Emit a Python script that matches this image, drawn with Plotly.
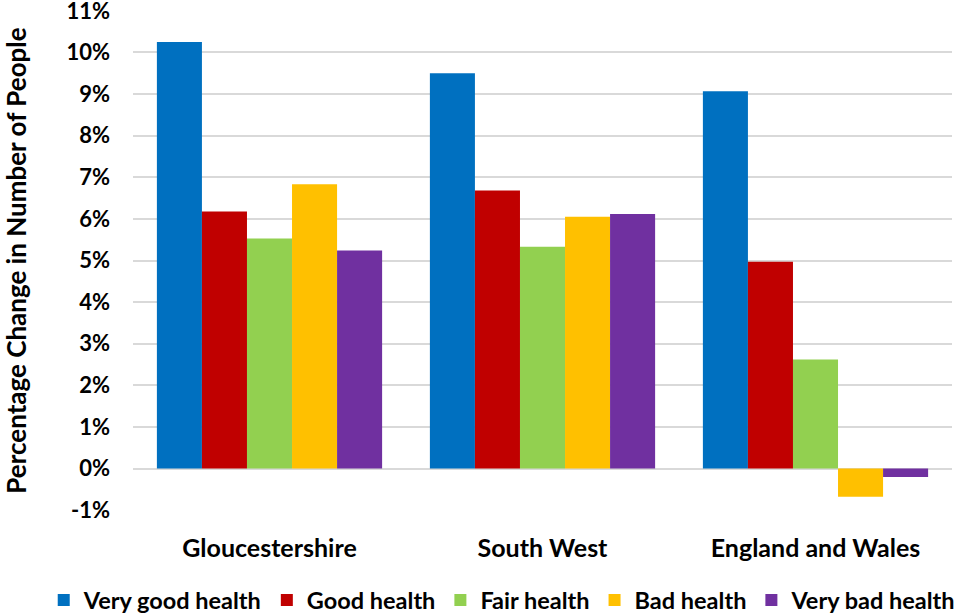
import plotly.graph_objects as go

categories = ["Gloucestershire", "South West", "England and Wales"]
series_names = ["Very good health", "Good health", "Fair health", "Bad health", "Very bad health"]
very_good = [10.25, 9.5, 9.07]
good = [6.18, 6.68, 4.97]
fair = [5.53, 5.33, 2.62]
bad = [6.83, 6.05, -0.68]
very_bad = [5.24, 6.12, -0.2]
colors = ["#0070C0", "#C00000", "#92D050", "#FFC000", "#7030A0"]
yticks = list(range(-1, 12))
ytick_labels = [f"{v}%" for v in yticks]
title_text = "Percentage Change in Health Category"

font_family = "Lato, 'Open Sans', sans-serif"

fig = go.Figure()
for name, vals, c in zip(series_names, [very_good, good, fair, bad, very_bad], colors):
    fig.add_trace(go.Bar(name=name, x=categories, y=vals, marker=dict(color=c, line=dict(width=0))))

fig.update_layout(
    width=961, height=613,
    barmode="group", bargap=0.175, bargroupgap=0,
    plot_bgcolor="white", paper_bgcolor="white",
    margin=dict(l=133, r=9, t=10, b=102, autoexpand=False),
    font=dict(family=font_family, size=18, color="black"),
    showlegend=True,
    legend=dict(orientation="h", x=-0.109, xanchor="left", y=-0.178, yanchor="middle",
                font=dict(size=23.5, color="black", family=font_family, weight="bold"),
                itemwidth=30, traceorder="normal"),
    yaxis=dict(range=[-1.02, 11.02], tickvals=yticks, ticktext=ytick_labels, showgrid=True,
               automargin=False, ticklabeloverflow="allow",
               gridcolor="#D9D9D9", gridwidth=1.5, zeroline=True, zerolinecolor="#D9D9D9",
               zerolinewidth=2, ticklabelstandoff=22,
               tickfont=dict(size=22, family=font_family, weight="bold"),
               title=dict(text="Percentage Change in Number of People", standoff=35,
                          font=dict(size=26, family=font_family, weight="bold"))),
    xaxis=dict(showline=False, ticks="", ticklabelstandoff=20, automargin=False,
               tickfont=dict(size=25, family=font_family, weight="bold")),
)
fig.add_annotation(text="<b>" + title_text + "</b>", xref="paper", yref="paper", x=0.5, y=1.0,
                   yanchor="bottom", yshift=13, showarrow=False,
                   font=dict(size=26, family=font_family, color="black"))
fig.write_html("out.html", config={"displayModeBar": False},
               post_script="document.body.style.margin='0';")
